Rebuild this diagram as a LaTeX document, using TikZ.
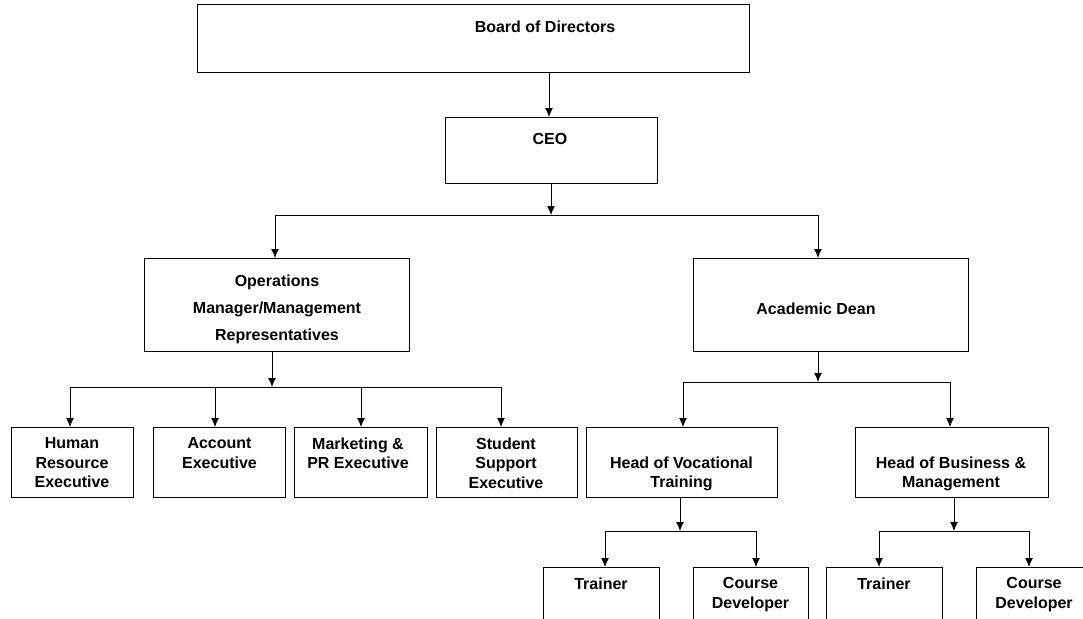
\documentclass[tikz,border=0pt]{standalone}
\usepackage{fontspec}
\setmainfont{Liberation Sans}
\usetikzlibrary{arrows.meta}
\begin{document}
\begin{tikzpicture}[x=1pt,y=-1pt,
  box/.style={draw=black,line width=1pt,inner sep=0pt,outer sep=0pt,fill=white},
  txt/.style={font=\fontsize{16}{19.5}\selectfont\bfseries,inner sep=0pt,align=center,text=black},
  wide/.style={font=\fontsize{16}{27}\selectfont\bfseries},
  conn/.style={line width=1pt,black},
  arr/.style={conn,-{Latex[length=9pt,width=8pt]}}]
\useasboundingbox (0,0) rectangle (1083,618);
\fill[white] (0,0) rectangle (1083,618);
\clip (0,0) rectangle (1083,618);
% boxes
\node[box,minimum width=552pt,minimum height=67pt] (board) at (473,38.5) {};
\node[box,minimum width=212pt,minimum height=66pt] (ceo) at (551,150) {};
\node[box,minimum width=265pt,minimum height=93pt] (ops) at (276.5,304.5) {};
\node[box,minimum width=275pt,minimum height=93pt] (ad) at (830.5,304.5) {};
\node[box,minimum width=122pt,minimum height=70pt] (hr) at (72,462) {};
\node[box,minimum width=132pt,minimum height=70pt] (acc) at (219,462) {};
\node[box,minimum width=133pt,minimum height=70pt] (mkt) at (360.5,462) {};
\node[box,minimum width=141pt,minimum height=70pt] (stu) at (506.5,462) {};
\node[box,minimum width=191pt,minimum height=70pt] (hov) at (681.5,462) {};
\node[box,minimum width=193pt,minimum height=70pt] (hob) at (951.5,462) {};
\node[box,minimum width=116pt,minimum height=80pt] (tr1) at (601,607) {};
\node[box,minimum width=115pt,minimum height=80pt] (cd1) at (750.5,607) {};
\node[box,minimum width=116pt,minimum height=80pt] (tr2) at (884,607) {};
\node[box,minimum width=116pt,minimum height=80pt] (cd2) at (1034,607) {};
% texts
\node[txt,anchor=base] (tboard) at (545,33) {Board of Directors};
\node[txt,anchor=base] (tceo) at (550,144) {CEO};
\node[txt,wide,anchor=north] (tops) at (277,274.4) {Operations\\Manager/Management\\Representatives};
\node[txt,anchor=base] (tad) at (816,314) {Academic Dean};
\node[txt,anchor=north] (thr) at (72,437.5) {Human\\Resource\\Executive};
\node[txt,anchor=north] (tacc) at (219.5,437.5) {Account\\Executive};
\node[txt,anchor=north] (tmkt) at (358,437.5) {Marketing \&\\PR Executive};
\node[txt,anchor=north] (tstu) at (506,437.5) {Student\\Support\\Executive};
\node[txt,anchor=north] (thov) at (681.5,456.4) {Head of Vocational\\Training};
\node[txt,anchor=north] (thob) at (951,456.4) {Head of Business \&\\Management};
\node[txt,anchor=base] (ttr1) at (601,589) {Trainer};
\node[txt,anchor=north] (tcd1) at (750.5,577.4) {Course\\Developer};
\node[txt,anchor=base] (ttr2) at (884,589) {Trainer};
\node[txt,anchor=north] (tcd2) at (1034,577.4) {Course\\Developer};
% junctions
\coordinate (j1) at (551,215);
\coordinate (a1L) at (275,215);
\coordinate (a1R) at (818,215);
\coordinate (j2) at (272,387);
\coordinate (b1) at (70,387);
\coordinate (b2) at (215,387);
\coordinate (b3) at (361,387);
\coordinate (b4) at (501,387);
\coordinate (j3) at (818,382);
\coordinate (c1) at (683,382);
\coordinate (c2) at (950,382);
\coordinate (j4) at (680,531);
\coordinate (d1) at (605,531);
\coordinate (d2) at (756,531);
\coordinate (j5) at (954,531);
\coordinate (e1) at (879,531);
\coordinate (e2) at (1029,531);
% connectors
\draw[arr] (board.south -| 549,0) -- (ceo.north -| 549,0);
\draw[arr] (ceo.south) -- (j1);
\draw[conn] (a1L) -- (a1R);
\draw[arr] (a1L) -- (a1L |- ops.north);
\draw[arr] (a1R) -- (a1R |- ad.north);
\draw[arr] (j2 |- ops.south) -- (j2);
\draw[conn] (b1) -- (b4);
\draw[arr] (b1) -- (b1 |- hr.north);
\draw[arr] (b2) -- (b2 |- acc.north);
\draw[arr] (b3) -- (b3 |- mkt.north);
\draw[arr] (b4) -- (b4 |- stu.north);
\draw[arr] (j3 |- ad.south) -- (j3);
\draw[conn] (c1) -- (c2);
\draw[arr] (c1) -- (c1 |- hov.north);
\draw[arr] (c2) -- (c2 |- hob.north);
\draw[arr] (j4 |- hov.south) -- (j4);
\draw[conn] (d1) -- (d2);
\draw[arr] (d1) -- (d1 |- tr1.north);
\draw[arr] (d2) -- (d2 |- cd1.north);
\draw[arr] (j5 |- hob.south) -- (j5);
\draw[conn] (e1) -- (e2);
\draw[arr] (e1) -- (e1 |- tr2.north);
\draw[arr] (e2) -- (e2 |- cd2.north);
\end{tikzpicture}
\end{document}
